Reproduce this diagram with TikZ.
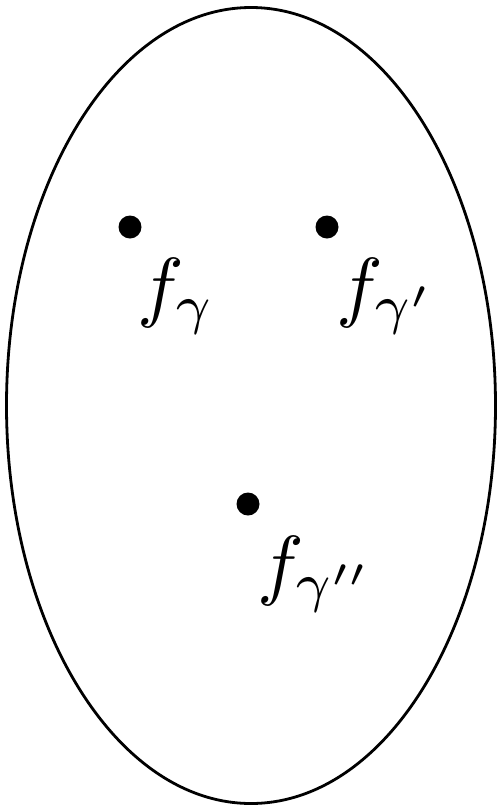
\documentclass[tikz,border=0pt]{standalone}
\usepackage{graphicx}
\newcommand{\biglbl}[1]{\scalebox{7.8}{\normalsize$#1$}}
\begin{document}
\begin{tikzpicture}[x=1pt,y=-1pt,
  pt/.style={circle,fill=black,inner sep=0pt,minimum size=23pt},
  lbl/.style={anchor=base west,inner sep=0pt}]
\useasboundingbox (0,0) rectangle (498,807);
\draw[line width=2.8pt] (251,405.5) ellipse [x radius=244.5, y radius=398];
\node[pt] (a) at (130,227) {};
\node[pt] (b) at (327,227) {};
\node[pt] (c) at (248,504) {};
\node[lbl] (la) at (137,312) {\biglbl{f_\gamma}};
\node[lbl] (lb) at (336,312) {\biglbl{f_{\gamma'}}};
\node[lbl] (lc) at (257,590) {\biglbl{f_{\gamma''}}};
\end{tikzpicture}
\end{document}
